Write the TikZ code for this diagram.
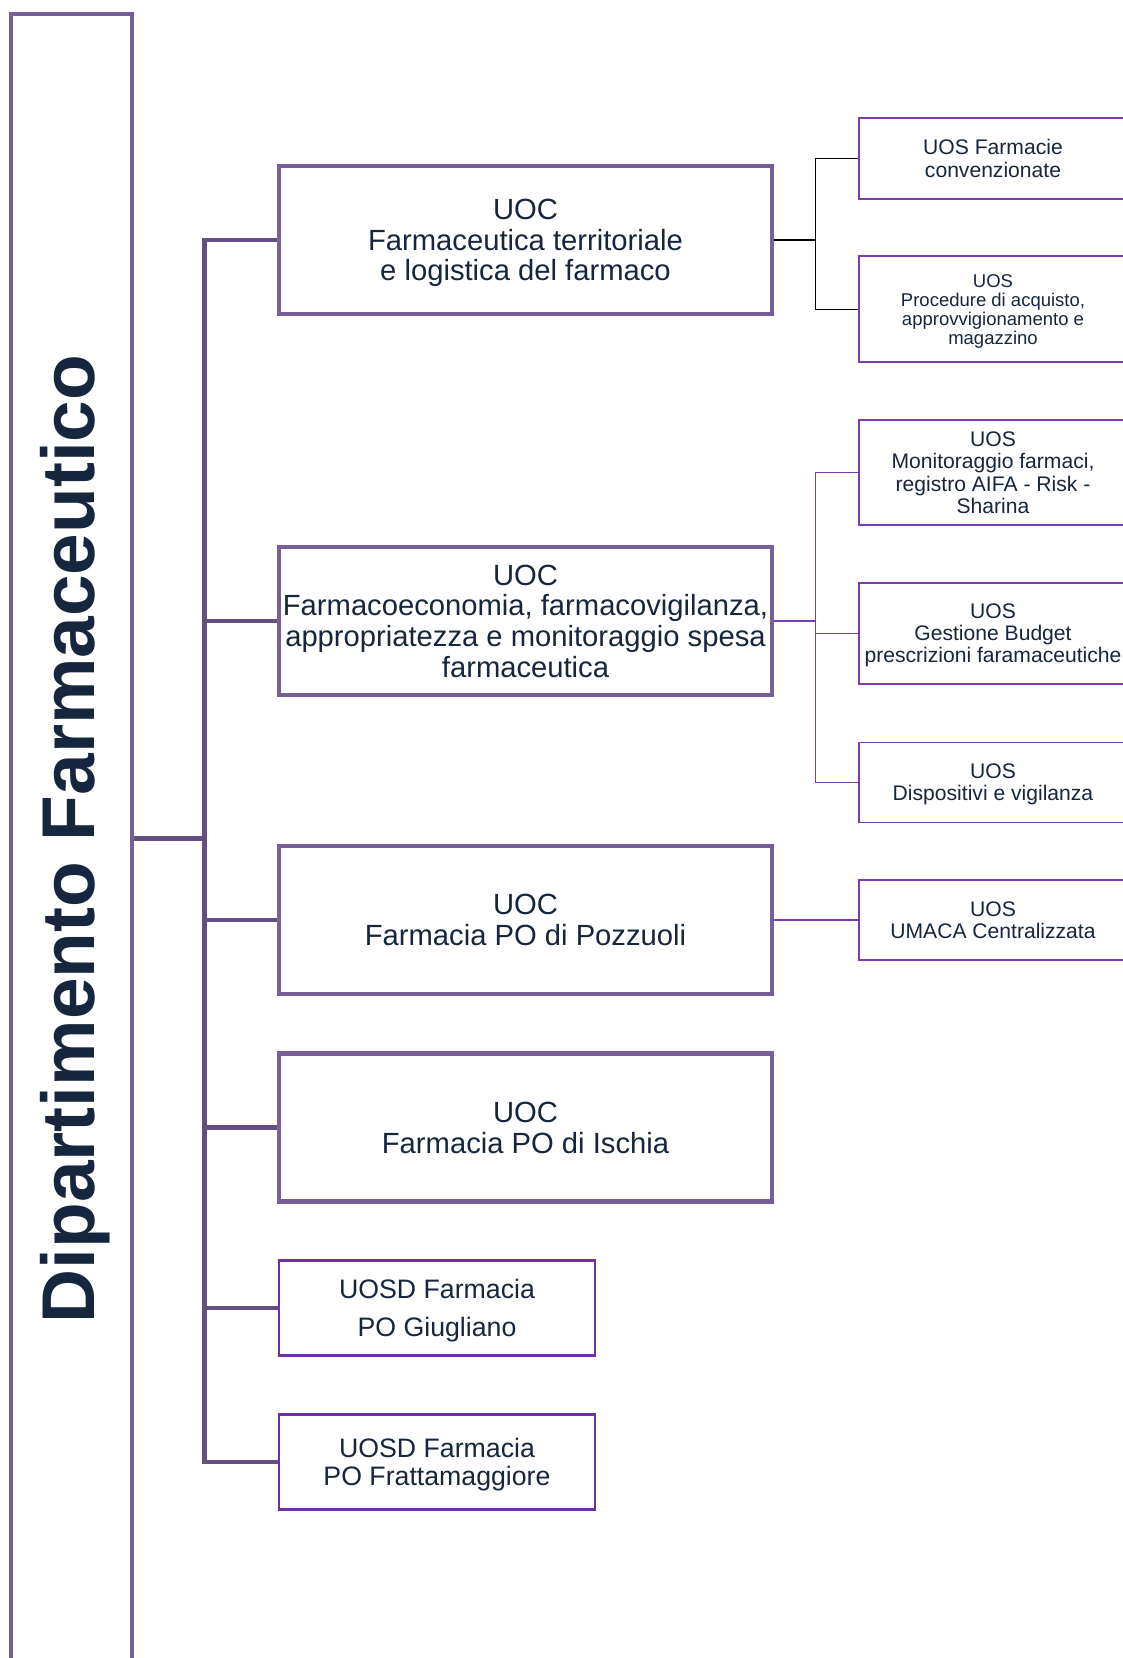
\documentclass[tikz,border=0pt]{standalone}
\usepackage{fontspec}
\setmainfont{Liberation Sans}
\definecolor{navy}{HTML}{16263F}
\definecolor{boxpurple}{HTML}{785F98}
\definecolor{trunkpurple}{HTML}{654F82}
\definecolor{vivid}{HTML}{7030A0}
\definecolor{thinpurple}{HTML}{7A3DB0}
\newcommand\nd[1]{\raisebox{0pt}[\height][0pt]{#1}}
\begin{document}
\begin{tikzpicture}[x=1pt,y=-1pt,
  uocbox/.style={draw=boxpurple, line width=4.5pt, minimum width=493pt, minimum height=148pt,
    align=center, inner sep=0pt, text=navy, font=\fontsize{29.2}{30.7}\selectfont},
  uosdbox/.style={draw=vivid, line width=2.8pt, minimum width=316pt, minimum height=95pt,
    align=center, inner sep=0pt, text=navy},
  uosbox/.style={draw=thinpurple, line width=1.5pt, minimum width=268pt,
    align=center, inner sep=0pt, text=navy, font=\fontsize{21.1}{22.3}\selectfont},
  trunkline/.style={draw=trunkpurple, line width=4.8pt, line join=miter},
  blackline/.style={draw=black, line width=1.3pt},
  purpline/.style={draw=thinpurple, line width=1.5pt}]
\clip (0,0) rectangle (1123,1658);
\fill[white] (0,0) rectangle (1123,1658);

% department tall rectangle
\node[draw=boxpurple, line width=4.2pt, minimum width=121pt, minimum height=1700pt, inner sep=0pt]
  (dept) at (71.2, 863.7) {};
\node[rotate=90, anchor=base, text=navy, inner sep=0pt,
  font=\fontsize{74.8}{80}\selectfont\bfseries] (title) at (94.5, 839) {Dipartimento Farmaceutico};

% UOC boxes
\node[uocbox] (uoc1) at (525.5, 240) {UOC\\Farmaceutica territoriale\\\nd{e logistica del farmaco}};
\node[uocbox] (uoc2) at (525.5, 621) {UOC\\Farmacoeconomia, farmacovigilanza,\\appropriatezza e monitoraggio spesa\\\nd{farmaceutica}};
\node[uocbox] (uoc3) at (525.5, 920) {UOC\\\nd{Farmacia PO di Pozzuoli}};
\node[uocbox] (uoc4) at (525.5, 1127.5) {UOC\\\nd{Farmacia PO di Ischia}};

% UOSD boxes
\node[uosdbox, font=\fontsize{26.7}{38}\selectfont] (uosd1) at (437, 1308) {UOSD Farmacia\\\nd{PO Giugliano}};
\node[uosdbox, font=\fontsize{26.7}{27.5}\selectfont] (uosd2) at (437, 1462) {UOSD Farmacia\\\nd{PO Frattamaggiore}};

% UOS boxes
\node[uosbox, minimum height=81pt] (f1) at (993, 158.3) {UOS Farmacie\\\nd{convenzionate}};
\node[uosbox, minimum height=106pt, font=\fontsize{18.5}{19}\selectfont] (f2) at (993, 309.2) {UOS\\Procedure di acquisto,\\approvvigionamento e\\\nd{magazzino}};
\node[uosbox, minimum height=105pt] (m1) at (993, 472.6) {UOS\\Monitoraggio farmaci,\\registro AIFA - Risk -\\\nd{Sharina}};
\node[uosbox, minimum height=101pt] (m2) at (993, 633.3) {UOS\\Gestione Budget\\\nd{prescrizioni faramaceutiche}};
\node[uosbox, minimum height=80pt] (m3) at (993, 782.4) {UOS\\\nd{Dispositivi e vigilanza}};
\node[uosbox, minimum height=80pt] (u1) at (993, 920) {UOS\\\nd{UMACA Centralizzata}};

% trunk
\coordinate (tb) at (204.5, 1462);
\coordinate (jt) at (204.5, 838.5);
\draw[trunkline] (uoc1.west) -| (tb) -- (uosd2.west);
\draw[trunkline] (dept.east |- jt) -- (jt);
\draw[trunkline] (uoc2.west) -- (uoc2.west -| tb);
\draw[trunkline] (uoc3.west) -- (uoc3.west -| tb);
\draw[trunkline] (uoc4.west) -- (uoc4.west -| tb);
\draw[trunkline] (uosd1.west) -- (uosd1.west -| tb);

% right connectors
\coordinate (j1) at (815.5, 240);
\draw[blackline] (uoc1.east) -- (j1);
\draw[blackline] (f1.west) -| (j1) |- (f2.west);

\coordinate (j2) at (815.5, 621);
\draw[purpline] (uoc2.east) -- (j2);
\draw[purpline] (m1.west) -| (j2) |- (m3.west);
\draw[purpline] (m2.west) -- (m2.west -| j2);

\draw[purpline] (uoc3.east) -- (u1.west);
\end{tikzpicture}
\end{document}
